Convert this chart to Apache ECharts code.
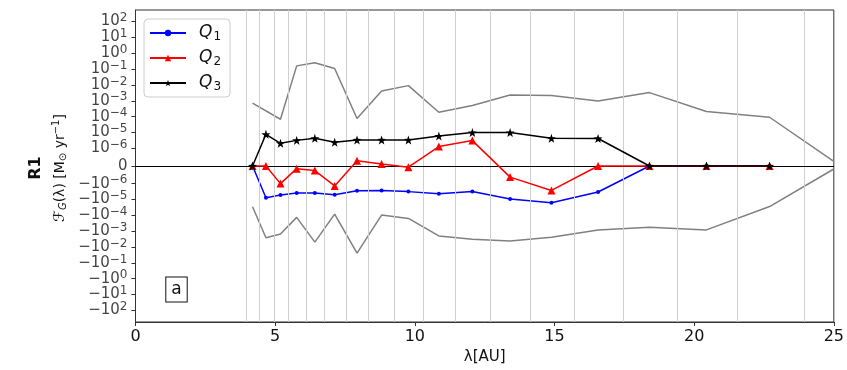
<!DOCTYPE html>
<html>
<head>
<meta charset="utf-8">
<script src="https://cdn.jsdelivr.net/npm/echarts@6/dist/echarts.min.js"></script>
<style>
  html, body { margin: 0; padding: 0; background: #fff; }
  #chart { width: 847px; height: 370px; }
</style>
</head>
<body>
<div id="chart"></div>
<script>
// Radial bin centres [AU]
const lambdaBins = [4.19, 4.67, 5.19, 5.77, 6.42, 7.13, 7.93, 8.81, 9.77, 10.86, 12.06, 13.41, 14.89, 16.56, 18.40, 20.44, 22.70];

// Mass flux per bin [Msun/yr]
const q1 = [0, -7.7e-6, -5.2e-6, -3.9e-6, -3.9e-6, -5.0e-6, -2.8e-6, -2.7e-6, -3.2e-6, -4.3e-6, -3.1e-6, -9.2e-6, -1.6e-5, -3.4e-6, 0, 0, 0];
const q2 = [0, 0, -1.0e-6, -1.5e-7, -2.6e-7, -1.4e-6, 3.0e-7, 1.1e-7, -7e-8, 1.3e-6, 3.1e-6, -6.3e-7, -2.7e-6, 0, 0, 0, 0];
const q3 = [0, 7.7e-6, 2.1e-6, 3.2e-6, 4.3e-6, 2.4e-6, 3.4e-6, 3.4e-6, 3.4e-6, 6.0e-6, 1.0e-5, 1.0e-5, 4.3e-6, 4.2e-6, 0, 0, 0];

// Envelope (upper / lower bounds)
const upperX = [4.19, 5.19, 5.77, 6.42, 7.13, 7.93, 8.81, 9.77, 10.86, 12.06, 13.41, 14.89, 16.56, 18.40, 20.44, 22.70, 25.0];
const upperY = [7.2e-4, 6.9e-5, 0.16, 0.25, 0.11, 7.6e-5, 4.1e-3, 9.1e-3, 1.9e-4, 5.1e-4, 2.3e-3, 2.2e-3, 9.7e-4, 3.3e-3, 2.1e-4, 9.2e-5, 2.6e-7];
const lowerX = [4.19, 4.67, 5.19, 5.77, 6.42, 7.13, 7.93, 8.81, 9.77, 10.86, 12.06, 13.41, 14.89, 16.56, 18.40, 20.44, 22.70, 25.0];
const lowerY = [-2.9e-5, -2.6e-3, -1.5e-3, -1.35e-4, -4.9e-3, -8.4e-5, -2.4e-2, -9.7e-5, -1.56e-4, -2.0e-3, -3.2e-3, -4.1e-3, -2.4e-3, -8.3e-4, -5.7e-4, -8.3e-4, -2.8e-5, -1.7e-7];

// Bin edges drawn as thin vertical lines
const binEdges = [3.98, 4.43, 4.96, 5.48, 6.10, 6.77, 7.53, 8.34, 9.28, 10.31, 11.44, 12.71, 14.14, 15.70, 17.45, 19.41, 21.55, 23.94];

// y tick decades (symmetric around 0)
const yTickPowers = [-6, -5, -4, -3, -2, -1, 0, 1, 2];
const xTicks = [0, 5, 10, 15, 20, 25];

// Symmetric log scale (linear region |v| < 1e-6)
const LINTHRESH = 1e-6;
const LINSCALE = 1 / (1 - 1 / 10);
function symlog(v) {
  const a = Math.abs(v);
  if (a <= LINTHRESH) return v / LINTHRESH * LINSCALE;
  return Math.sign(v) * (LINSCALE + Math.log10(a / LINTHRESH));
}

// Tick positions on the transformed axis and their rich-text labels
const yTicks = [];
yTickPowers.forEach(p => {
  const e = String(p).replace('-', '\u2212');
  const pos = symlog(Math.pow(10, p));
  yTicks.push({ pos: pos, text: '{b|10}{s|' + e + '}' });
  yTicks.push({ pos: -pos, text: '{b|\u221210}{s|' + e + '}' });
});
yTicks.push({ pos: 0, text: '{b|0}' });
yTicks.sort((a, b) => a.pos - b.pos);
const tickVals = yTicks.map(t => t.pos);

const YLIM = 9.84;

function pairs(xs, ys) { return xs.map((x, i) => [x, symlog(ys[i])]); }

const chart = echarts.init(document.getElementById('chart'), null, { renderer: 'canvas' });

const FONT = 'DejaVu Sans';
const seriesNames = ['Q1', 'Q2', 'Q3'];

chart.setOption({
  animation: false,
  backgroundColor: '#fff',
  textStyle: { fontFamily: FONT },
  grid: {
    left: 135.5, right: 12.7, top: 10, bottom: 44.3,
    show: true, borderColor: '#333', borderWidth: 1, backgroundColor: 'transparent'
  },
  legend: {
    left: 144, top: 19,
    orient: 'vertical',
    data: seriesNames,
    itemWidth: 36, itemHeight: 8, itemGap: 5,
    padding: [4, 9, 4, 5],
    backgroundColor: '#fff',
    borderColor: '#ccc', borderWidth: 1, borderRadius: 4,
    formatter: n => '{q|Q}{d|' + n.slice(1) + '}',
    textStyle: {
      fontFamily: FONT, color: '#111', lineHeight: 20, padding: [0, 0, 0, 8],
      rich: {
        q: { fontFamily: FONT, fontSize: 17, fontStyle: 'italic', color: '#111' },
        d: { fontFamily: FONT, fontSize: 12, color: '#111', padding: [8, 0, 0, 1] }
      }
    }
  },
  xAxis: {
    type: 'value', min: xTicks[0], max: xTicks[xTicks.length - 1], interval: 5,
    name: '\u03BB[AU]', nameLocation: 'middle', nameGap: 28,
    nameTextStyle: { fontFamily: FONT, fontSize: 15, color: '#111' },
    axisLine: { show: true, onZero: false, lineStyle: { color: '#333', width: 1 } },
    axisTick: { show: true, inside: false, length: 4, lineStyle: { color: '#333' } },
    axisLabel: { fontFamily: FONT, fontSize: 16, color: '#111', margin: 7 },
    splitLine: { show: false }
  },
  yAxis: {
    type: 'value', min: -YLIM, max: YLIM,
    axisLine: { show: true, onZero: false, lineStyle: { color: '#333', width: 1 } },
    axisTick: { show: true, inside: false, length: 4, customValues: tickVals, lineStyle: { color: '#333' } },
    axisLabel: { show: false },
    splitLine: { show: false }
  },
  graphic: [
    {
      type: 'text', x: 36, y: 168, rotation: Math.PI / 2,
      style: { text: 'R1', fontFamily: FONT, fontSize: 16, fontWeight: 'bold', fill: '#111', align: 'center', verticalAlign: 'middle' }
    },
    {
      type: 'text', x: 60, y: 168, rotation: Math.PI / 2,
      style: {
        text: '{f|\u2131}{s|G}{n|(\u03BB) [M}{s|\u2299}{n| yr}{p|\u22121}{n|]}',
        align: 'center', verticalAlign: 'middle',
        rich: {
          f: { fontFamily: FONT, fontSize: 15, fill: '#111', fontStyle: 'italic' },
          s: { fontFamily: FONT, fontSize: 10, fill: '#111', fontStyle: 'italic', padding: [6, 0, 0, 0] },
          p: { fontFamily: FONT, fontSize: 10, fill: '#111', padding: [0, 0, 7, 0] },
          n: { fontFamily: FONT, fontSize: 14, fill: '#111' }
        }
      }
    },
    {
      type: 'text', x: 176.5, y: 289.5,
      style: {
        text: 'a', fontFamily: FONT, fontSize: 17, fill: '#111',
        align: 'center', verticalAlign: 'middle',
        backgroundColor: '#fff', borderColor: '#111', borderWidth: 1,
        padding: [3, 5, 4, 5]
      }
    }
  ],
  series: [
    {
      name: 'edges', type: 'line', data: [], silent: true,
      markLine: {
        silent: true, symbol: 'none', label: { show: false },
        lineStyle: { color: '#cfcfcf', width: 1, type: 'solid' },
        data: binEdges.map(x => ({ xAxis: x }))
      }
    },
    {
      // y tick labels, placed through the y scale at the left edge
      name: 'yTickLabels', type: 'scatter', silent: true, clip: false,
      symbolSize: 0,
      data: yTicks.map(t => ({ value: [xTicks[0], t.pos], label: { formatter: t.text } })),
      label: {
        show: true, position: 'left', distance: 8,
        rich: {
          b: { fontFamily: FONT, fontSize: 15, color: '#111', lineHeight: 15 },
          s: { fontFamily: FONT, fontSize: 12, color: '#111', lineHeight: 8, padding: [0, 0, 7, 0] }
        }
      },
      z: 10
    },
    {
      name: 'upper', type: 'line', data: pairs(upperX, upperY), showSymbol: false, silent: true,
      lineStyle: { color: '#808080', width: 1.5 }, z: 2
    },
    {
      name: 'lower', type: 'line', data: pairs(lowerX, lowerY), showSymbol: false, silent: true,
      lineStyle: { color: '#808080', width: 1.5 }, z: 2
    },
    {
      name: 'zero', type: 'line', data: [], silent: true,
      markLine: {
        silent: true, symbol: 'none', label: { show: false },
        lineStyle: { color: '#000', width: 1, type: 'solid' },
        data: [{ yAxis: 0 }]
      }, z: 3
    },
    {
      name: seriesNames[0], type: 'line', data: pairs(lambdaBins, q1),
      symbol: 'circle', symbolSize: 4,
      itemStyle: { color: '#0000ff' }, lineStyle: { color: '#0000ff', width: 1.5 }, z: 4
    },
    {
      name: seriesNames[1], type: 'line', data: pairs(lambdaBins, q2),
      symbol: 'triangle', symbolSize: 8,
      itemStyle: { color: '#ff0000' }, lineStyle: { color: '#ff0000', width: 1.5 }, z: 5
    },
    {
      name: seriesNames[2], type: 'line', data: pairs(lambdaBins, q3),
      symbol: 'path://M0,-10 L2.35,-3.24 L9.51,-3.09 L3.8,1.24 L5.88,8.09 L0,4 L-5.88,8.09 L-3.8,1.24 L-9.51,-3.09 L-2.35,-3.24 Z',
      symbolSize: 9,
      itemStyle: { color: '#000' }, lineStyle: { color: '#000', width: 1.5 }, z: 6
    }
  ]
});
</script>
</body>
</html>
